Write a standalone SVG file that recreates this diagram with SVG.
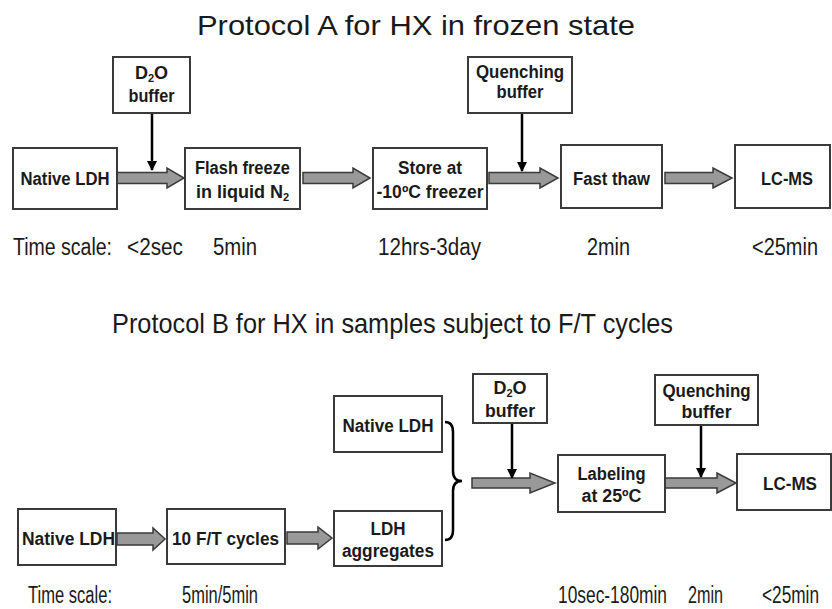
<svg xmlns="http://www.w3.org/2000/svg" width="832" height="609" viewBox="0 0 832 609">
<defs>
<style>
.box{fill:#fff;stroke:#3a3a3a;stroke-width:2}
.lbl{font-family:"Liberation Sans",Arial,sans-serif;font-weight:bold;font-size:18px;fill:#1a1a1a;text-anchor:middle}
.title{font-family:"Liberation Sans",Arial,sans-serif;font-size:28px;fill:#1a1a1a}
.ts{font-family:"Liberation Sans",Arial,sans-serif;font-size:23px;fill:#1a1a1a}
.blk{fill:#999;stroke:#3a3a3a;stroke-width:1.5;stroke-linejoin:miter}
.vline{stroke:#000;stroke-width:2.5;fill:none}
.brace{stroke:#000;stroke-width:2.5;fill:none}
</style>
<marker id="ah" viewBox="0 0 10 10" refX="9" refY="5" markerWidth="4" markerHeight="4.5" orient="auto" markerUnits="strokeWidth">
<path d="M0,0 L10,5 L0,10 z" fill="#000"/>
</marker>
</defs>
<rect width="832" height="609" fill="#fff"/>

<text class="title" x="197" y="35" textLength="438" lengthAdjust="spacingAndGlyphs">Protocol A for HX in frozen state</text>
<text class="title" x="112" y="333" font-size="27" textLength="561" lengthAdjust="spacingAndGlyphs">Protocol B for HX in samples subject to F/T cycles</text>

<g id="connectors">
<path class="blk" d="M117,172.5 H167 V168 L184,178 L167,188 V183.5 H117 z"/>
<path class="blk" d="M303,172.5 H353 V168 L370,178 L353,188 V183.5 H303 z"/>
<path class="blk" d="M489,172.5 H540 V168 L558,178 L540,188 V183.5 H489 z"/>
<path class="blk" d="M665,172.5 H713 V168 L732,178 L713,188 V183.5 H665 z"/>
<line class="vline" x1="152" y1="114" x2="152" y2="170" marker-end="url(#ah)"/>
<line class="vline" x1="522" y1="114" x2="522" y2="171" marker-end="url(#ah)"/>

<path class="blk" d="M117,533 H153 V528 L165,539 L153,550 V545 H117 z"/>
<path class="blk" d="M287,532 H318 V527 L332,538 L318,549 V544 H287 z"/>
<path class="blk" d="M472,478 H530 V473 L555,483 L530,493 V488 H472 z"/>
<path class="blk" d="M665,478 H717 V473 L736,483 L717,493 V488 H665 z"/>
<line class="vline" x1="512" y1="424" x2="512" y2="478" marker-end="url(#ah)"/>
<line class="vline" x1="701" y1="426" x2="701" y2="477" marker-end="url(#ah)"/>
<path class="brace" d="M445,422 Q453,422 453,432 L453,471 Q453,481 462,481 Q453,481 453,491 L453,530 Q453,540 445,540"/>
</g>

<g id="a-d2o"><rect class="box" x="113" y="57" width="77" height="56"/>
<text class="lbl" x="151.5" y="79">D<tspan font-size="11" dy="3">2</tspan><tspan dy="-3">O</tspan></text>
<text class="lbl" x="151.5" y="102" textLength="46" lengthAdjust="spacingAndGlyphs">buffer</text></g>
<g id="a-native"><rect class="box" x="13" y="148" width="104" height="61"/>
<text class="lbl" x="65" y="185" textLength="89" lengthAdjust="spacingAndGlyphs">Native LDH</text></g>
<g id="a-flash"><rect class="box" x="185" y="148" width="115" height="61"/>
<text class="lbl" x="242.5" y="174" textLength="95" lengthAdjust="spacingAndGlyphs">Flash freeze</text>
<text class="lbl" x="242.5" y="198">in liquid N<tspan font-size="11" dy="3">2</tspan></text></g>
<g id="a-store"><rect class="box" x="373" y="148" width="114" height="61"/>
<text class="lbl" x="430" y="174" textLength="64" lengthAdjust="spacingAndGlyphs">Store at</text>
<text class="lbl" x="430" y="198" textLength="107" lengthAdjust="spacingAndGlyphs">-10ºC freezer</text></g>
<g id="a-quench"><rect class="box" x="468" y="57" width="104" height="56"/>
<text class="lbl" x="520" y="78" textLength="88" lengthAdjust="spacingAndGlyphs">Quenching</text>
<text class="lbl" x="520" y="98" textLength="47" lengthAdjust="spacingAndGlyphs">buffer</text></g>
<g id="a-thaw"><rect class="box" x="561" y="145" width="101" height="63"/>
<text class="lbl" x="611.5" y="185" textLength="77" lengthAdjust="spacingAndGlyphs">Fast thaw</text></g>
<g id="a-lcms"><rect class="box" x="735" y="145" width="95" height="63"/>
<text class="lbl" x="787" y="185" textLength="52" lengthAdjust="spacingAndGlyphs">LC-MS</text></g>

<g id="a-times">
<text class="ts" x="13" y="255" textLength="99" lengthAdjust="spacingAndGlyphs">Time scale:</text>
<text class="ts" x="127" y="255" textLength="56" lengthAdjust="spacingAndGlyphs">&lt;2sec</text>
<text class="ts" x="213" y="255" textLength="44" lengthAdjust="spacingAndGlyphs">5min</text>
<text class="ts" x="378" y="255" textLength="103" lengthAdjust="spacingAndGlyphs">12hrs-3day</text>
<text class="ts" x="587" y="255" textLength="43" lengthAdjust="spacingAndGlyphs">2min</text>
<text class="ts" x="752" y="255" textLength="66" lengthAdjust="spacingAndGlyphs">&lt;25min</text>
</g>

<g id="b-native-top"><rect class="box" x="334" y="396" width="108" height="56"/>
<text class="lbl" x="388" y="432" textLength="91" lengthAdjust="spacingAndGlyphs">Native LDH</text></g>
<g id="b-native"><rect class="box" x="18" y="509" width="98" height="56"/>
<text class="lbl" x="68.5" y="545" textLength="93" lengthAdjust="spacingAndGlyphs">Native LDH</text></g>
<g id="b-ft"><rect class="box" x="167" y="509" width="118" height="55"/>
<text class="lbl" x="225.5" y="545" textLength="107" lengthAdjust="spacingAndGlyphs">10 F/T cycles</text></g>
<g id="b-agg"><rect class="box" x="334" y="511" width="108" height="55"/>
<text class="lbl" x="388" y="535" textLength="35" lengthAdjust="spacingAndGlyphs">LDH</text>
<text class="lbl" x="388" y="557" textLength="92" lengthAdjust="spacingAndGlyphs">aggregates</text></g>
<g id="b-d2o"><rect class="box" x="473" y="374" width="74" height="49"/>
<text class="lbl" x="510" y="394">D<tspan font-size="11" dy="3">2</tspan><tspan dy="-3">O</tspan></text>
<text class="lbl" x="510" y="417" textLength="50" lengthAdjust="spacingAndGlyphs">buffer</text></g>
<g id="b-quench"><rect class="box" x="655" y="375" width="103" height="50"/>
<text class="lbl" x="706.5" y="397" textLength="88" lengthAdjust="spacingAndGlyphs">Quenching</text>
<text class="lbl" x="706.5" y="418" textLength="50" lengthAdjust="spacingAndGlyphs">buffer</text></g>
<g id="b-label"><rect class="box" x="558" y="455" width="107" height="57"/>
<text class="lbl" x="611.5" y="480" textLength="68" lengthAdjust="spacingAndGlyphs">Labeling</text>
<text class="lbl" x="611.5" y="502" textLength="60" lengthAdjust="spacingAndGlyphs">at 25ºC</text></g>
<g id="b-lcms"><rect class="box" x="737" y="454" width="94" height="56"/>
<text class="lbl" x="790" y="490" textLength="54" lengthAdjust="spacingAndGlyphs">LC-MS</text></g>

<g id="b-times">
<text class="ts" x="28" y="603" font-size="20" textLength="84" lengthAdjust="spacingAndGlyphs">Time scale:</text>
<text class="ts" x="182" y="603" font-size="20" textLength="76" lengthAdjust="spacingAndGlyphs">5min/5min</text>
<text class="ts" x="558" y="603" font-size="20" textLength="109" lengthAdjust="spacingAndGlyphs">10sec-180min</text>
<text class="ts" x="688" y="603" font-size="20" textLength="35" lengthAdjust="spacingAndGlyphs">2min</text>
<text class="ts" x="762" y="603" font-size="20" textLength="57" lengthAdjust="spacingAndGlyphs">&lt;25min</text>
</g>
</svg>
